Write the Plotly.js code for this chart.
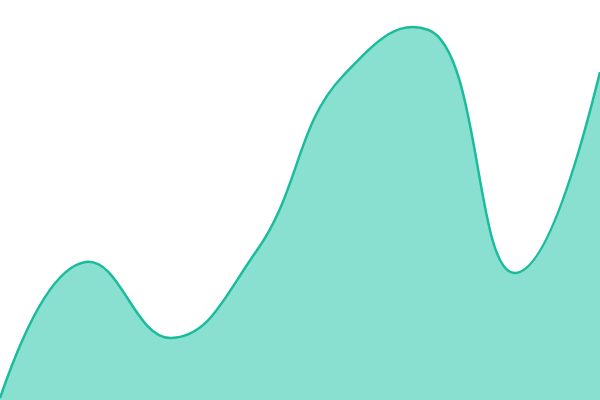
<!DOCTYPE html>
<html><head><meta charset="utf-8">
<script src="https://cdn.plot.ly/plotly-3.0.1.min.js"></script>
<style>html,body{margin:0;padding:0;background:#fff}#chart{width:600px;height:400px}</style>
</head><body><div id="chart"></div>
<script>
const xs = [0, 1, 2, 3, 4, 5, 6, 7];
const values = [0.5, 34.5, 15.5, 37.5, 81, 92.5, 31.75, 82];
Plotly.newPlot('chart', [{
  x: xs, y: values, type: 'scatter', mode: 'lines',
  line: {shape: 'spline', smoothing: 1.3, color: '#1abc9c', width: 2.5},
  fill: 'tozeroy', fillcolor: '#8ae0d0', hoverinfo: 'none'
}], {
  width: 600, height: 400,
  margin: {l: 0, r: 0, t: 0, b: 0},
  paper_bgcolor: '#fff', plot_bgcolor: '#fff',
  showlegend: false,
  xaxis: {visible: false, range: [0, 7], fixedrange: true},
  yaxis: {visible: false, range: [0, 100], fixedrange: true}
}, {displayModeBar: false, staticPlot: true});
</script></body></html>
